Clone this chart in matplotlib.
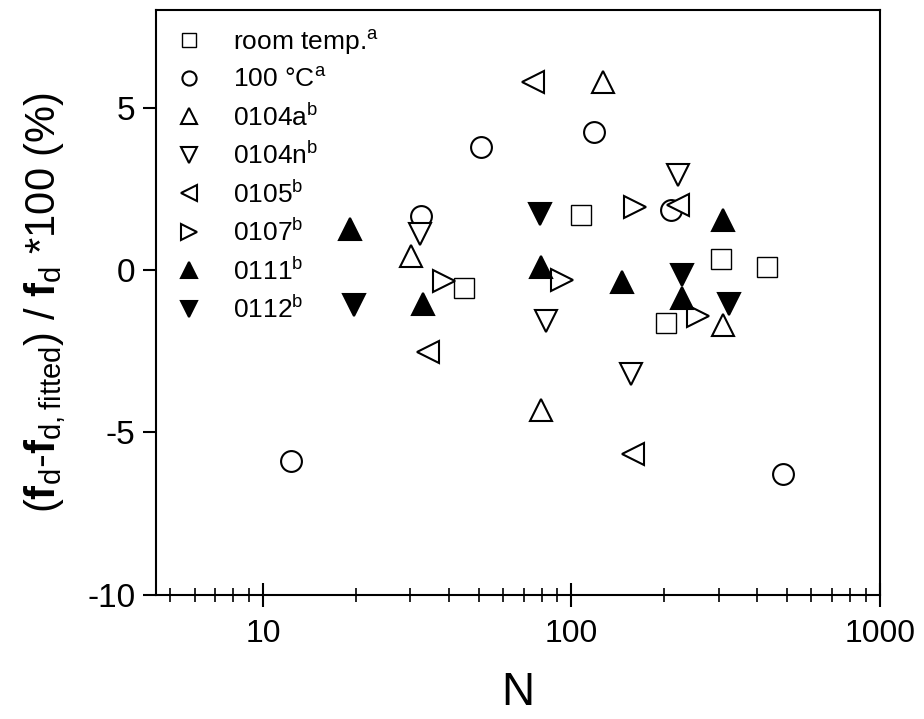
import numpy as np
import matplotlib
matplotlib.use("Agg")
import matplotlib.pyplot as plt

plt.rcParams['font.family'] = ['Liberation Sans', 'DejaVu Sans']
plt.rcParams['mathtext.fontset'] = 'custom'
plt.rcParams['mathtext.rm'] = 'Liberation Sans'
plt.rcParams['mathtext.bf'] = 'Liberation Sans:bold'

# residuals of the fitted frequency, per sample set
room_N = [45, 107, 203, 306, 431]
room_y = [-0.55, 1.69, -1.63, 0.34, 0.09]
hot_N = [12.3, 32.6, 51, 118, 211, 486]
hot_y = [-5.88, 1.66, 3.78, 4.25, 1.85, -6.28]
s0104a_N = [30.1, 79.7, 127, 311]
s0104a_y = [0.43, -4.31, 5.78, -1.69]
s0104n_N = [32.2, 82.7, 156, 222]
s0104n_y = [1.11, -1.57, -3.2, 2.92]
s0105_N = [34.4, 75.1, 158, 221]
s0105_y = [-2.52, 5.78, -5.66, 2.0]
s0107_N = [38.7, 93.1, 161, 258]
s0107_y = [-0.34, -0.31, 1.94, -1.42]
s0111_N = [19.2, 33.1, 79.7, 146, 228, 309]
s0111_y = [1.26, -1.05, 0.09, -0.37, -0.86, 1.54]
s0112_N = [19.7, 79.1, 228, 325]
s0112_y = [-1.08, 1.72, -0.15, -1.05]

labels = [r'room temp.$^{\mathrm{a}}$', r'100 °C$^{\mathrm{a}}$',
          r'0104a$^{\mathrm{b}}$', r'0104n$^{\mathrm{b}}$',
          r'0105$^{\mathrm{b}}$', r'0107$^{\mathrm{b}}$',
          r'0111$^{\mathrm{b}}$', r'0112$^{\mathrm{b}}$']

fig = plt.figure(figsize=(9.24, 7.19), dpi=100)
ax = fig.add_axes([0.1688, 0.1725, 0.7835, 0.8135])

series = [
    (room_N, room_y, 's', 'white', 14, 1.0),
    (hot_N, hot_y, 'o', 'white', 15, 1.5),
    (s0104a_N, s0104a_y, '^', 'white', 16, 1.5),
    (s0104n_N, s0104n_y, 'v', 'white', 16, 1.5),
    (s0105_N, s0105_y, '<', 'white', 16, 1.5),
    (s0107_N, s0107_y, '>', 'white', 16, 1.5),
    (s0111_N, s0111_y, '^', 'black', 16, 1.5),
    (s0112_N, s0112_y, 'v', 'black', 16, 1.5),
]
for (n, y, m, fc, ms, mew), lab in zip(series, labels):
    ax.plot(n, y, linestyle='none', marker=m, markersize=ms,
            markerfacecolor=fc, markeredgecolor='black',
            markeredgewidth=mew, label=lab)

ax.set_xscale('log')
ax.set_xlim(4.5, 1000)
ax.set_ylim(-10, 8)
ax.set_yticks([-10, -5, 0, 5])
ax.set_yticklabels(['-10', '-5', '0', '5'])
ax.set_xticks([10, 100, 1000])
ax.set_xticklabels(['10', '100', '1000'])

for sp in ax.spines.values():
    sp.set_linewidth(1.5)
ax.tick_params(axis='x', which='major', direction='inout', length=17,
               width=1.5, labelsize=23, pad=8.5)
ax.tick_params(axis='x', which='minor', direction='inout', length=10,
               width=1.2)
ax.tick_params(axis='y', which='major', direction='out', length=9.5,
               width=1.5, labelsize=24, pad=5.5)

ax.set_xlabel('N', fontsize=33, labelpad=16)
ax.set_ylabel(r'($\mathbf{f}_\mathregular{d}$-$\mathbf{f}_\mathregular{d,fitted}$) / '
              r'$\mathbf{f}_\mathregular{d}$ *100 (%)', fontsize=30, labelpad=14)

ax.legend(loc='upper left', bbox_to_anchor=(0.006, 0.998), frameon=False,
          fontsize=19, markerscale=0.68, handlelength=1.0,
          handletextpad=1.15, labelspacing=0.405, borderpad=0.1)

fig.savefig('out.png', dpi=100)
